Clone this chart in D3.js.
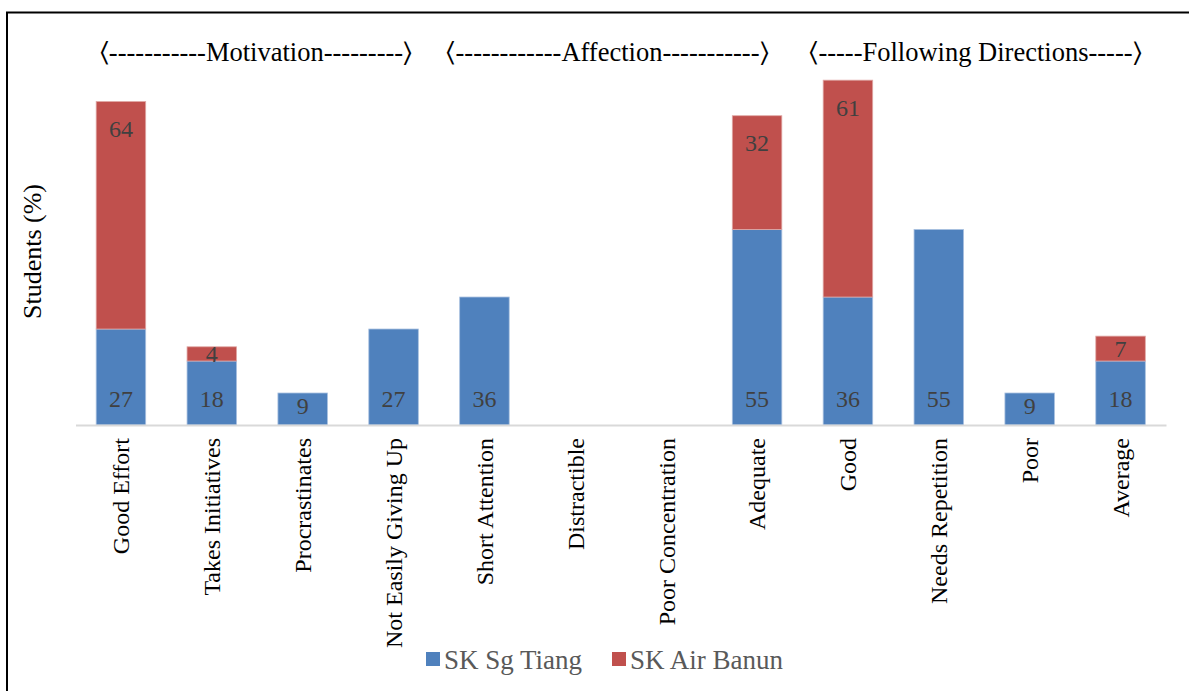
<!DOCTYPE html>
<html><head><meta charset="utf-8">
<script src="https://cdn.jsdelivr.net/npm/d3@7"></script>
<style>html,body{margin:0;padding:0;background:#fff;}svg{display:block;} text{font-family:"Liberation Serif","Times New Roman",serif;}</style>
</head><body>
<script>
const categories = ["Good Effort","Takes Initiatives","Procrastinates","Not Easily Giving Up","Short Attention","Distractible","Poor Concentration","Adequate","Good","Needs Repetition","Poor","Average"];
const sgTiang = [27,18,9,27,36,0,0,55,36,55,9,18];
const airBanun = [64,4,0,0,0,0,0,32,61,0,0,7];
const seriesNames = ["SK Sg Tiang","SK Air Banun"];
const groupTitles = ["\u2329-----------Motivation---------\u232A","\u2329------------Affection-----------\u232A","\u2329-----Following Directions-----\u232A"];
const groupCenters = [256,607.5,975.5];

const W=1189,H=691;
const colors=["#4F81BD","#C0504D"];
const svg=d3.select("body").append("svg").attr("width",W).attr("height",H);
svg.append("rect").attr("width",W).attr("height",H).attr("fill","#fff");
// frame
svg.append("path").attr("d",`M7,${H} V12.5 H${W}`).attr("fill","none").attr("stroke","#000").attr("stroke-width",2);

const x=d3.scaleBand().domain(categories).range([75.5,1166]).paddingInner(0.455).paddingOuter(0.2275);
const y=d3.scaleLinear().domain([0,100]).range([425,69.5]);

const data=categories.map((c,i)=>({cat:c,v:[sgTiang[i],airBanun[i]]}));
const stack=d3.stack().keys([0,1]).value((d,k)=>d.v[k]);
const layers=stack(data);

layers.forEach((layer,k)=>{
  const g=svg.append("g");
  g.selectAll("rect").data(layer.filter(d=>d[1]-d[0]>0)).join("rect")
    .attr("x",d=>x(d.data.cat)).attr("width",x.bandwidth())
    .attr("y",d=>y(d[1])).attr("height",d=>y(d[0])-y(d[1]))
    .attr("fill",colors[k]).attr("stroke",k===0?"#a9c1e0":"#e0a8a6").attr("stroke-width",0.8);
  g.selectAll("text").data(layer.filter(d=>d[1]-d[0]>0)).join("text")
    .attr("x",d=>x(d.data.cat)+x.bandwidth()/2)
    .attr("y",d=>{
      const y0=y(d[0]),y1=y(d[1]);
      let c;
      if(k===0) c=Math.max(y0-26.5,(y0+y1)/2-3.5);
      else c=Math.min(y1+27,(y0+y1)/2);
      return c;
    })
    .attr("dy","0.35em").attr("text-anchor","middle")
    .attr("font-size",24).attr("fill","#404040")
    .text(d=>d[1]-d[0]);
});

// axis
const ax=svg.append("g").attr("transform","translate(0,425)").call(d3.axisBottom(x).tickSize(0).tickPadding(0));
ax.select(".domain").attr("stroke","#d9d9d9").attr("stroke-width",2);
ax.selectAll(".tick text").attr("font-family",null).attr("font-size",24).attr("fill","#000")
  .attr("transform","rotate(-90)").attr("text-anchor","end").attr("x",-13).attr("y",0).attr("dy","0.35em");
ax.attr("font-family",null);

// y title
svg.append("text").attr("transform","translate(32,251.5) rotate(-90)").attr("text-anchor","middle")
  .attr("dy","0.35em").attr("font-size",26).attr("fill","#000").text("Students (%)");

// group titles
svg.selectAll(".gt").data(groupTitles).join("text").attr("class","gt")
  .attr("x",(d,i)=>groupCenters[i]).attr("y",52).attr("dy","0.35em").attr("text-anchor","middle")
  .attr("font-size",26.5).attr("fill","#000").text(d=>d);

// legend
const legX=[426,612];
seriesNames.forEach((n,i)=>{
  svg.append("rect").attr("x",legX[i]).attr("y",652).attr("width",14).attr("height",14).attr("fill",colors[i]);
  svg.append("text").attr("x",legX[i]+18).attr("y",660).attr("dy","0.35em")
    .attr("font-size",27).attr("fill","#595959").text(n);
});
</script>
</body></html>
